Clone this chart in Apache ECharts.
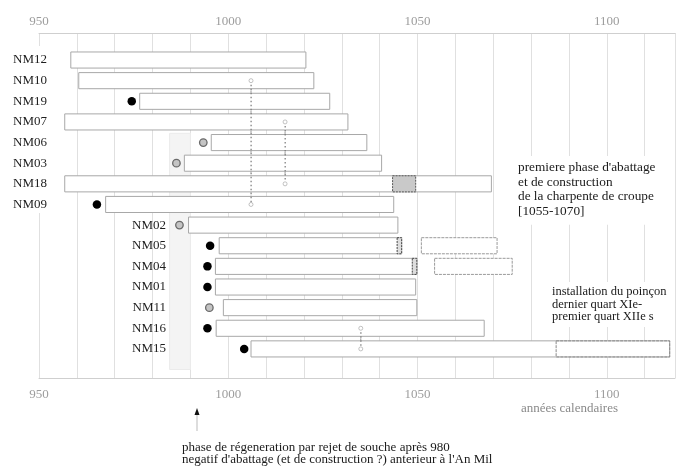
<!DOCTYPE html>
<html><head><meta charset="utf-8">
<script src="https://cdn.jsdelivr.net/npm/echarts@6/dist/echarts.min.js"></script>
<style>html,body{margin:0;padding:0;background:#fff}#c{width:678px;height:470px}</style>
</head><body><div id="c"></div>
<script>
// ---- data ----
const samples   = ['NM12','NM10','NM19','NM07','NM06','NM03','NM18','NM09','NM02','NM05','NM04','NM01','NM11','NM16','NM15'];
const barStart  = [958.4, 960.5, 976.6, 956.8, 995.5, 988.4, 956.8, 967.6, 989.5, 997.6, 996.6, 996.6, 998.7, 996.8, 1006.0];
const barEnd    = [1020.5,1022.6,1026.8,1031.6,1036.6,1040.5,1069.5,1043.7,1044.8,1045.8,1049.8,1049.5,1049.8,1067.6,1116.6];
const pithYear  = [null, null, 974.5, null, 993.4, 986.3, null, 965.3, 987.1, 995.2, 994.5, 994.5, 995.0, 994.5, 1004.2];
const pithType  = ['', '', 'black', '', 'gray', 'gray', '', 'black', 'gray', 'black', 'black', 'black', 'gray', 'black', 'black'];
const extraRows  = ['NM05', 'NM04'];
const extraStart = [1051.0, 1054.5];
const extraEnd   = [1071.0, 1075.0];
const markRows  = ['NM05', 'NM04'];
const markStart = [1044.6, 1048.6];
const markEnd   = [1045.8, 1049.8];
const fellRows  = ['NM18'];
const fellStart = [1043.4];
const fellEnd   = [1049.5];
const boxRows   = ['NM15'];
const boxStart  = [1086.6];
const boxEnd    = [1116.6];
const refYear   = [1006, 1006, 1015, 1015, 1035, 1035];
const refRow    = ['NM10', 'NM09', 'NM07', 'NM18', 'NM16', 'NM15'];
const regenStart = 984.5;
const regenEnd   = 990;
const tickLabels = [950, 1000, 1050, 1100];

// ---- chart ----
const serif = '"Liberation Serif", "DejaVu Serif", serif';
const rowIdx = n => samples.indexOf(n);
const chart = echarts.init(document.getElementById('c'), null, {renderer: 'canvas'});

function rectItem(kind) {
  return function (params, api) {
    const y = api.value(0), s = api.value(1), e = api.value(2);
    const p1 = api.coord([s, y]), p2 = api.coord([e, y]);
    const h = api.size([0, 1])[1] * 0.78;
    const styles = {
      bar:  {fill: '#fff', stroke: '#a8a8a8', lineWidth: 1},
      extra:{fill: '#fff', stroke: '#9a9a9a', lineWidth: 1, lineDash: [3, 1]},
      fell: {fill: '#c9c9c9', stroke: '#555', lineWidth: 1, lineDash: [2, 1]},
      mark: {fill: '#ddd', stroke: '#444', lineWidth: 1, lineDash: [2, 1]},
      box:  {fill: 'rgba(0,0,0,0)', stroke: '#8a8a8a', lineWidth: 1, lineDash: [3, 1]}
    };
    return {type: 'rect', shape: {x: p1[0], y: p1[1] - h / 2, width: p2[0] - p1[0], height: h}, style: styles[kind]};
  };
}
const mk = (rows, st, en) => rows.map((r, i) => [rowIdx(r), st[i], en[i]]);

const refPairs = [];
for (let i = 0; i < refYear.length; i += 2) refPairs.push([refYear[i], rowIdx(refRow[i]), rowIdx(refRow[i + 1])]);

const axisBase = {
  type: 'value', min: 950, max: 1118, interval: 10,
  axisLine: {show: true, onZero: false, lineStyle: {color: '#cfcfcf'}}, axisTick: {show: false}
};

chart.setOption({
  animation: false,
  textStyle: {fontFamily: serif},
  grid: {left: 39, right: 1, top: 33, bottom: 92},
  xAxis: [
    Object.assign({}, axisBase, {position: 'top',
     axisLabel: {formatter: v => tickLabels.includes(v) ? String(v) : '', color: '#9d9d9d', fontSize: 13, margin: 5, fontFamily: serif},
     splitLine: {show: true, lineStyle: {color: '#e0e0e0', width: 1}}}),
    Object.assign({}, axisBase, {position: 'bottom',
     axisLabel: {formatter: v => tickLabels.includes(v) ? String(v) : '', color: '#9d9d9d', fontSize: 13, margin: 10, fontFamily: serif},
     splitLine: {show: false}})
  ],
  yAxis: {type: 'value', inverse: true, min: -1.31, max: 15.41, show: false},
  series: [
    {type: 'custom', data: [[regenStart, regenEnd, rowIdx('NM06') - 0.45, 15.0]],
     renderItem: (p, api) => {
       const a = api.coord([api.value(0), api.value(2)]), b = api.coord([api.value(1), api.value(3)]);
       return {type: 'rect', shape: {x: a[0], y: a[1], width: b[0] - a[0], height: b[1] - a[1]}, style: {fill: '#f4f4f4', stroke: '#ebebeb'}};
     }, silent: true, z: 1},
    {type: 'custom', data: refPairs, silent: true, z: 2,
     renderItem: (p, api) => {
       const a = api.coord([api.value(0), api.value(1)]), b = api.coord([api.value(0), api.value(2)]);
       return {type: 'line', shape: {x1: a[0], y1: a[1], x2: b[0], y2: b[1]}, style: {stroke: '#9a9a9a', lineWidth: 1, lineDash: [2, 3]}};
     }},
    {type: 'custom', data: samples.map((s, i) => [i, barStart[i], barEnd[i]]), renderItem: rectItem('bar'), silent: true, z: 3},
    {type: 'custom', data: mk(extraRows, extraStart, extraEnd), renderItem: rectItem('extra'), silent: true, z: 3},
    {type: 'custom', data: mk(boxRows, boxStart, boxEnd), renderItem: rectItem('box'), silent: true, z: 4},
    {type: 'custom', data: mk(fellRows, fellStart, fellEnd), renderItem: rectItem('fell'), silent: true, z: 4},
    {type: 'custom', data: mk(markRows, markStart, markEnd), renderItem: rectItem('mark'), silent: true, z: 4},
    {type: 'custom', data: refPairs, silent: true, z: 5,
     renderItem: (p, api) => {
       const a = api.coord([api.value(0), api.value(1)]), b = api.coord([api.value(0), api.value(2)]);
       const seg = [];
       for (let y = a[1] + 4; y < b[1] - 3; y += 4) seg.push({type: 'rect', shape: {x: a[0] - 0.5, y: y, width: 1.2, height: 1.5}, style: {fill: '#777'}});
       return {type: 'group', children: seg};
     }},
    {type: 'scatter', data: refYear.map((y, i) => [y, rowIdx(refRow[i])]), symbol: 'circle', symbolSize: 4,
     itemStyle: {color: '#fff', borderColor: '#a0a0a0', borderWidth: 0.8}, silent: true, z: 6},
    {type: 'scatter', data: samples.map((s, i) => pithType[i] === 'black' ? [pithYear[i], i] : null).filter(d => d),
     symbol: 'circle', symbolSize: 8.5, itemStyle: {color: '#000', opacity: 1}, silent: true, z: 6},
    {type: 'scatter', data: samples.map((s, i) => pithType[i] === 'gray' ? [pithYear[i], i] : null).filter(d => d),
     symbol: 'circle', symbolSize: 7.5, itemStyle: {color: '#c4c4c4', borderColor: '#6a6a6a', borderWidth: 1.3, opacity: 1}, silent: true, z: 6},
    {type: 'custom', data: samples.map((s, i) => [i]), silent: true, z: 7,
     renderItem: (p, api) => {
       const i = api.value(0);
       const y = api.coord([950, i])[1];
       return {type: 'text', style: {text: samples[i], x: i < 8 ? 47 : 166, y: y, align: 'right', verticalAlign: 'middle',
         fill: '#1e1e1e', font: '13px ' + serif}};
     }}
  ],
  graphic: [
    {type: 'rect', shape: {x: 8, y: 46, width: 42, height: 167}, style: {fill: '#fff'}, z: 1, silent: true},
    {type: 'text', left: 514, top: 156, z: 100, style: {text: "premiere phase d'abattage\net de construction\nde la charpente de croupe\n[1055-1070]",
      font: '13.3px ' + serif, fill: '#1a1a1a', lineHeight: 14.7, backgroundColor: '#fff', padding: [4, 8, 6, 4]}},
    {type: 'text', left: 548, top: 282, z: 100, style: {text: 'installation du poinçon\ndernier quart XIe-\npremier quart XIIe s',
      font: '12.5px ' + serif, fill: '#1a1a1a', lineHeight: 12.3, backgroundColor: '#fff', padding: [4, 8, 4, 4]}},
    {type: 'text', right: 60, top: 402, style: {text: 'années calendaires', font: '13px ' + serif, fill: '#8a8a8a'}},
    {type: 'line', shape: {x1: 197, y1: 413, x2: 197, y2: 431}, style: {stroke: '#bbb', lineWidth: 1}},
    {type: 'polygon', shape: {points: [[197, 408], [194.5, 415], [199.5, 415]]}, style: {fill: '#111'}},
    {type: 'text', left: 182, top: 441.5, style: {text: 'phase de régeneration par rejet de souche après 980',
      font: '13px ' + serif, fill: '#1a1a1a'}},
    {type: 'text', left: 182, top: 453.5, style: {text: "negatif d'abattage (et de construction ?) anterieur à l'An Mil",
      font: '13px ' + serif, fill: '#1a1a1a'}}
  ]
});
</script>
</body></html>
